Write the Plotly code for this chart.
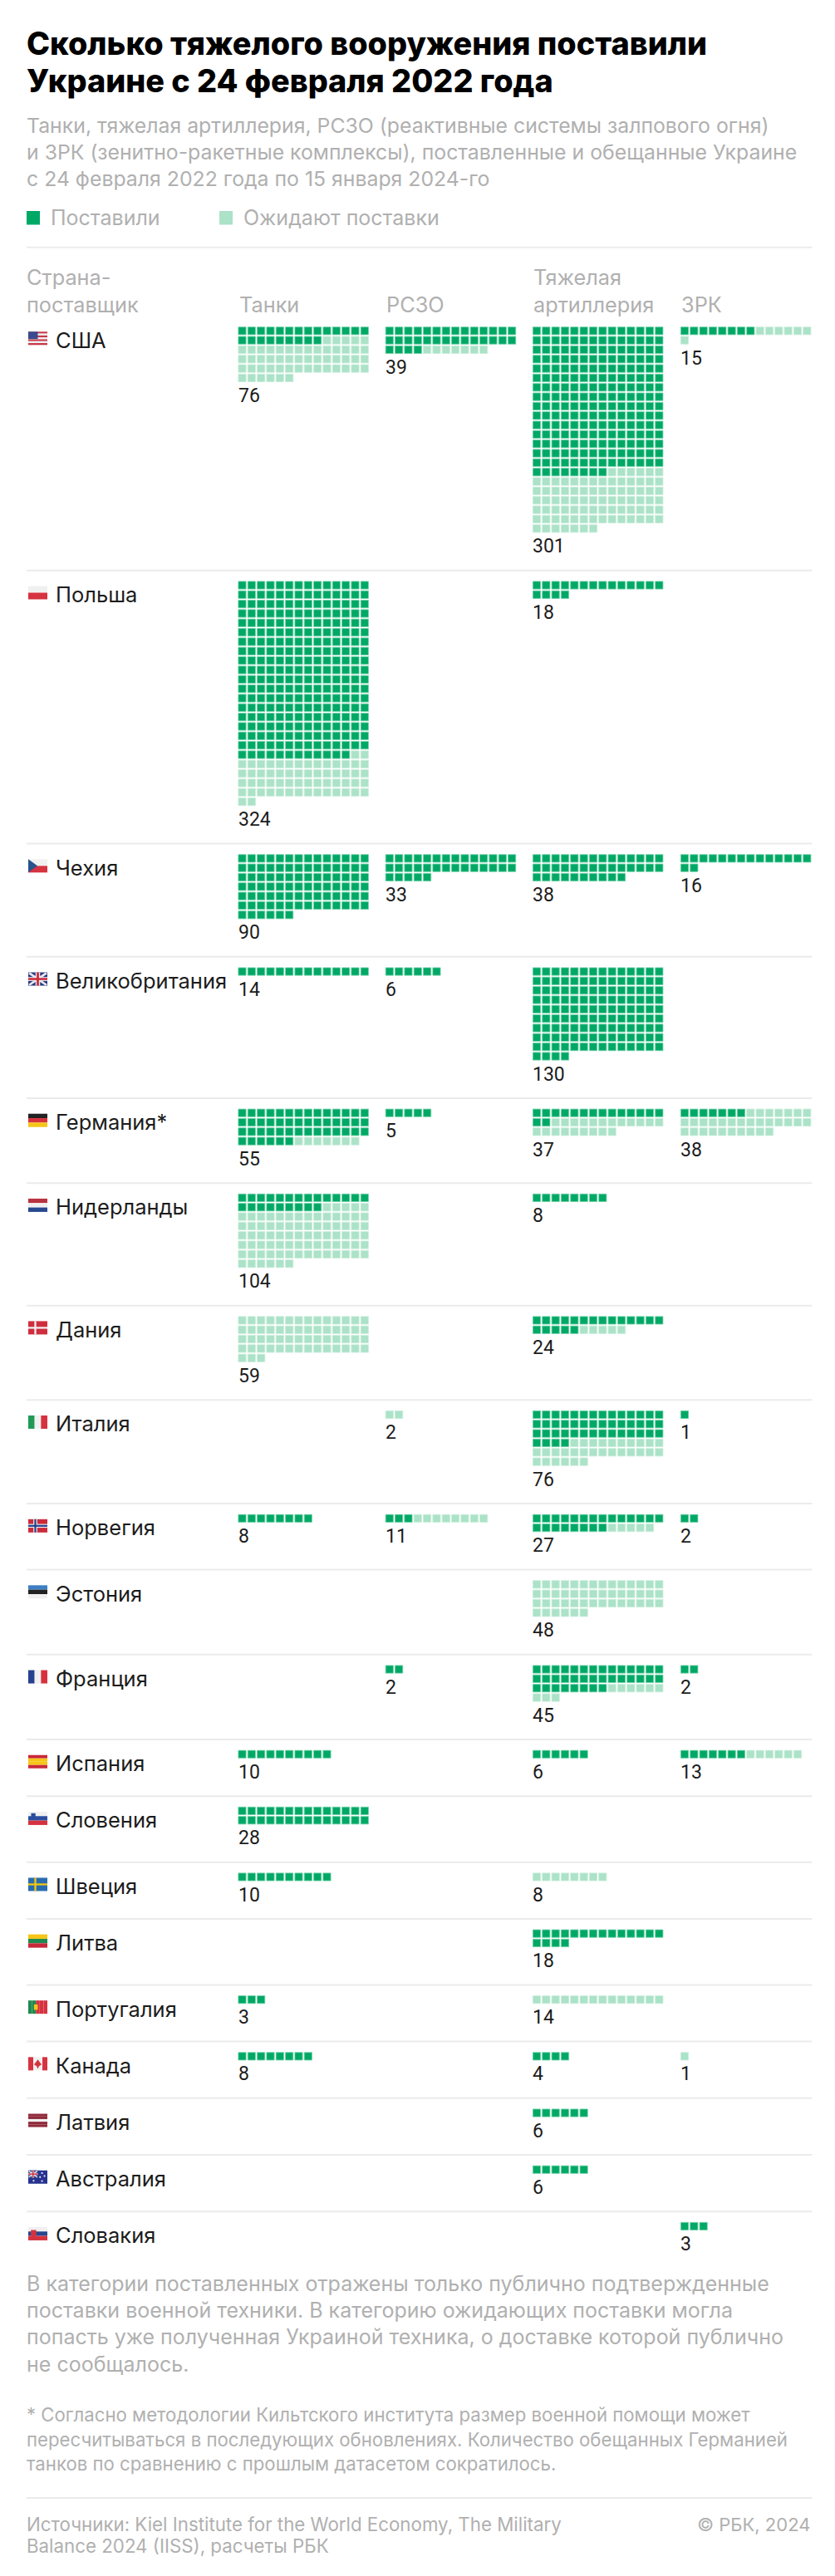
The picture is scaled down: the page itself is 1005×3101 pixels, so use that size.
import math
import plotly.graph_objects as go

countries = ["США","Польша","Чехия","Великобритания","Германия*","Нидерланды","Дания","Италия","Норвегия","Эстония",
             "Франция","Испания","Словения","Швеция","Литва","Португалия","Канада","Латвия","Австралия","Словакия"]
categories = ["Танки","РСЗО",["Тяжелая","артиллерия"],"ЗРК"]
tanks_delivered = [23,264,90,14,48,23,0,0,8,0,0,10,28,10,0,3,8,0,0,0]
tanks_pending   = [53,60,0,0,7,81,59,0,0,0,0,0,0,0,0,0,0,0,0,0]
mlrs_delivered  = [32,0,33,6,5,0,0,0,3,0,2,0,0,0,0,0,0,0,0,0]
mlrs_pending    = [7,0,0,0,0,0,0,2,8,0,0,0,0,0,0,0,0,0,0,0]
arty_delivered  = [218,18,38,130,16,8,19,46,22,0,36,6,0,0,18,0,4,6,6,0]
arty_pending    = [83,0,0,0,21,0,5,30,5,48,9,0,0,8,0,14,0,0,0,0]
sam_delivered   = [8,0,16,0,7,0,0,1,2,0,2,7,0,0,0,0,0,0,0,3]
sam_pending     = [7,0,0,0,31,0,0,0,0,0,0,6,0,0,0,0,1,0,0,0]

title_lines = ["Сколько тяжелого вооружения поставили","Украине с 24 февраля 2022 года"]
subtitle_lines = ["Танки, тяжелая артиллерия, РСЗО (реактивные системы залпового огня)",
                  "и ЗРК (зенитно-ракетные комплексы), поставленные и обещанные Украине",
                  "с 24 февраля 2022 года по 15 января 2024-го"]
legend_labels = ["Поставили","Ожидают поставки"]
note_lines = ["В категории поставленных отражены только публично подтвержденные",
              "поставки военной техники. В категорию ожидающих поставки могла",
              "попасть уже полученная Украиной техника, о доставке которой публично",
              "не сообщалось."]
foot_lines = ["* Согласно методологии Кильтского института размер военной помощи может",
              "пересчитываться в последующих обновлениях. Количество обещанных Германией",
              "танков по сравнению с прошлым датасетом сократилось."]
source_lines = ["Источники: Kiel Institute for the World Economy, The Military","Balance 2024 (IISS), расчеты РБК"]
copyright_text = "© РБК, 2024"

# ---- style / layout constants
W, H = 1005, 3101
DARK, LIGHT = "#00a865", "#abe2c8"
INK, GREY = "#1c1c1c", "#b0b0b0"
SEP = "#ebebeb"
FONT = "Inter"
LEFT, RIGHT = 32, 977.5
COLS = [286.5, 463.8, 641.0, 819.0]
PITCH = 11.333
PER_ROW = 14

series = [(tanks_delivered,tanks_pending),(mlrs_delivered,mlrs_pending),
          (arty_delivered,arty_pending),(sam_delivered,sam_pending)]

annotations, shapes = [], []

def txt(x, y, s, size, color, weight=400, anchor="left", font=FONT):
    annotations.append(dict(x=x, y=y, xref="x", yref="y", text=s, showarrow=False, xanchor=anchor, yanchor="middle",
                            align=anchor, borderpad=0, borderwidth=0,
                            font=dict(family=font, size=size, color=color, weight=weight)))

def hline(y, color=SEP):
    shapes.append(dict(type="line", xref="x", yref="y", x0=LEFT, x1=RIGHT, y0=y, y1=y,
                       line=dict(color=color, width=2), layer="below"))

def rect(x0,y0,x1,y1,c):
    shapes.append(dict(type="rect", xref="x", yref="y", x0=x0,x1=x1,y0=y0,y1=y1, fillcolor=c, line=dict(width=0), layer="above"))

def poly(fx,fy,pts,c):
    d = "M"+" L".join(f"{fx+px*FW:.2f},{fy+py*FH:.2f}" for px,py in pts)+" Z"
    shapes.append(dict(type="path", xref="x", yref="y", path=d, fillcolor=c, line=dict(width=0), layer="above"))

FW, FH = 23, 16
def hflag(fx,fy,cols):
    n=len(cols)
    for i,c in enumerate(cols): rect(fx,fy+i*FH/n,fx+FW,fy+(i+1)*FH/n,c)
def vflag(fx,fy,cols):
    n=len(cols)
    for i,c in enumerate(cols): rect(fx+i*FW/n,fy,fx+(i+1)*FW/n,fy+FH,c)
def cross(fx,fy,bg,c1,c2=None):
    rect(fx,fy,fx+FW,fy+FH,bg)
    if c2:
        rect(fx+.27*FW,fy,fx+.47*FW,fy+FH,c2); rect(fx,fy+.36*FH,fx+FW,fy+.64*FH,c2)
    rect(fx+.32*FW,fy,fx+.42*FW,fy+FH,c1); rect(fx,fy+.43*FH,fx+FW,fy+.57*FH,c1)
def union(fx,fy,w,h):
    global FW,FH
    a,b=FW,FH; FW,FH=w,h
    rect(fx,fy,fx+w,fy+h,"#2b3a80")
    poly(fx,fy,[(0,.1),(.1,0),(1,.9),(.9,1)],"#e9e9ef"); poly(fx,fy,[(.9,0),(1,.1),(.1,1),(0,.9)],"#e9e9ef")
    rect(fx+.38*w,fy,fx+.62*w,fy+h,"#e9e9ef"); rect(fx,fy+.35*h,fx+w,fy+.65*h,"#e9e9ef")
    rect(fx+.44*w,fy,fx+.56*w,fy+h,"#cc2b3b"); rect(fx,fy+.42*h,fx+w,fy+.58*h,"#cc2b3b")
    FW,FH=a,b

def flag(name,fx,fy):
    if name=="США":
        hflag(fx,fy,["#c8384a","#eeeeee"]*3+["#c8384a"]); rect(fx,fy,fx+.5*FW,fy+.55*FH,"#3b4a8f")
    elif name=="Польша": hflag(fx,fy,["#f0f0f0","#d6323f"])
    elif name=="Чехия":
        hflag(fx,fy,["#f0f0f0","#d6323f"]); poly(fx,fy,[(0,0),(.48,.5),(0,1)],"#27538f")
    elif name=="Великобритания": union(fx,fy,FW,FH)
    elif name.startswith("Германия"): hflag(fx,fy,["#222222","#d8303a","#f5c518"])
    elif name=="Нидерланды": hflag(fx,fy,["#b8323f","#f0f0f0","#27488f"])
    elif name=="Дания": cross(fx,fy,"#cf2e3f","#f2f2f2")
    elif name=="Италия": vflag(fx,fy,["#1f9a56","#f0f0f0","#d6323f"])
    elif name=="Норвегия": cross(fx,fy,"#cc2b3b","#26408f","#f2f2f2")
    elif name=="Эстония": hflag(fx,fy,["#3d7fc4","#222222","#f0f0f0"])
    elif name=="Франция": vflag(fx,fy,["#27408f","#f0f0f0","#d6323f"])
    elif name=="Испания": hflag(fx,fy,["#c8283a","#f5c518","#f5c518","#c8283a"])
    elif name=="Словения":
        hflag(fx,fy,["#f0f0f0","#2b4da0","#d6323f"]); poly(fx,fy,[(.15,.12),(.38,.12),(.38,.45),(.26,.58),(.15,.45)],"#2b4da0")
    elif name=="Швеция": cross(fx,fy,"#2a6cb0","#f6c90e")
    elif name=="Литва": hflag(fx,fy,["#f5c518","#1f8a50","#c8283a"])
    elif name=="Португалия":
        vflag(fx,fy,["#1f8a50","#1f8a50","#d6323f","#d6323f","#d6323f"]); rect(fx+.3*FW,fy+.3*FH,fx+.5*FW,fy+.7*FH,"#f5c518")
    elif name=="Канада":
        rect(fx,fy,fx+FW,fy+FH,"#f0f0f0"); rect(fx,fy,fx+.26*FW,fy+FH,"#d6323f"); rect(fx+.74*FW,fy,fx+FW,fy+FH,"#d6323f")
        poly(fx,fy,[(.5,.18),(.62,.42),(.7,.55),(.55,.7),(.52,.85),(.48,.85),(.45,.7),(.3,.55),(.38,.42)],"#d6323f")
    elif name=="Латвия": hflag(fx,fy,["#8f2a3a","#8f2a3a","#f0f0f0","#8f2a3a","#8f2a3a"])
    elif name=="Австралия":
        rect(fx,fy,fx+FW,fy+FH,"#27338f"); union(fx,fy,.5*FW,.55*FH)
        for px,py in [(.72,.2),(.85,.42),(.62,.5),(.72,.8),(.28,.78)]:
            poly(fx,fy,[(px-.04,py-.06),(px+.04,py-.06),(px+.04,py+.06),(px-.04,py+.06)],"#f0f0f0")
    elif name=="Словакия":
        hflag(fx,fy,["#f0f0f0","#27488f","#d6323f"]); poly(fx,fy,[(.14,.22),(.42,.22),(.42,.62),(.28,.82),(.14,.62)],"#d6323f")

# ---- header
for i,s in enumerate(title_lines):
    txt(LEFT, 52+i*45, s, 37.8, "#000000", 800)
for i,s in enumerate(subtitle_lines):
    txt(LEFT, 150.5+i*32.2, s, 24.8, GREY)
shapes.append(dict(type="rect", xref="x", yref="y", x0=LEFT,x1=LEFT+16,y0=254,y1=270.5, fillcolor=DARK, line=dict(width=0)))
shapes.append(dict(type="rect", xref="x", yref="y", x0=264,x1=280,y0=254,y1=270.5, fillcolor=LIGHT, line=dict(width=0)))
txt(60.5, 262, legend_labels[0], 25, GREY)
txt(292.5, 262, legend_labels[1], 25, GREY)
hline(297.7)
txt(LEFT, 333, "Страна-", 25.3, GREY)
txt(LEFT, 366, "поставщик", 25.3, GREY)
for cx,c in zip(COLS,categories):
    if isinstance(c,list):
        txt(cx+1, 333, c[0], 25.3, GREY); txt(cx+1, 366, c[1], 25.3, GREY)
    else:
        txt(cx+1, 366, c, 25.3, GREY)

# ---- waffle rows, laid out from the data
xs = {"d":[], "p":[]}; ys = {"d":[], "p":[]}
top = 393.3
for i,name in enumerate(countries):
    rows = 1
    for c,(dl,pn) in enumerate(series):
        d,p = dl[i],pn[i]
        total = d+p
        if not total: continue
        n = math.ceil(total/PER_ROW); rows = max(rows,n)
        for k in range(total):
            key = "d" if k<d else "p"
            xs[key].append(COLS[c]+(k%PER_ROW)*PITCH+5)
            ys[key].append(top+(k//PER_ROW)*PITCH+5)
        txt(COLS[c], top+n*PITCH+15.3, str(total), 23, INK, font="Roboto")
    txt(66.5, top+16, name, 25.5, INK)
    flag(name, 34, top+6)
    sep = top+rows*PITCH+44.1
    if i < len(countries)-1: hline(sep)
    top = sep+12.76

# ---- notes
for i,s in enumerate(note_lines):
    txt(LEFT, 2748.5+i*32.4, s, 25, GREY)
for i,s in enumerate(foot_lines):
    txt(LEFT, 2906.7+i*29.6, s, 22.2, GREY)
hline(3007)
for i,s in enumerate(source_lines):
    txt(LEFT, 3038.5+i*26, s, 22.3, GREY)
txt(975, 3038.5, copyright_text, 22, GREY, anchor="right")

fig = go.Figure()
for key,color,edge,label in [("d",DARK,"#6fd0a8",legend_labels[0]),("p",LIGHT,"#c9eddb",legend_labels[1])]:
    fig.add_trace(go.Scatter(x=xs[key], y=ys[key], mode="markers", name=label, hoverinfo="skip",
                             marker=dict(symbol="square", size=9.2, color=color, line=dict(color=edge, width=0.8))))
fig.update_layout(width=W, height=H, margin=dict(l=0,r=0,t=0,b=0), showlegend=False,
                  paper_bgcolor="white", plot_bgcolor="white",
                  xaxis=dict(range=[0,W], visible=False, fixedrange=True),
                  yaxis=dict(range=[H,0], visible=False, fixedrange=True),
                  annotations=annotations, shapes=shapes, font=dict(family=FONT))
fig.write_html("out.html", config={"displayModeBar":False},
               post_script="document.body.style.margin='0';")
